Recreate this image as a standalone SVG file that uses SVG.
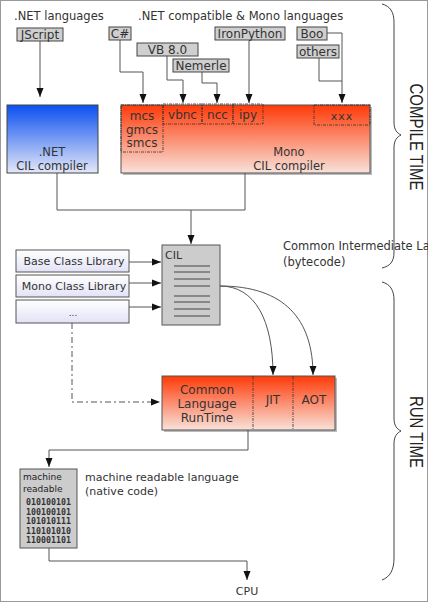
<svg xmlns="http://www.w3.org/2000/svg" width="428" height="602" viewBox="0 0 428 602">
<style>
text{font-family:"DejaVu Sans",Verdana,sans-serif;fill:#333;}
.t{font-size:11.5px;}
.lbl{font-size:12px;text-anchor:middle;}
.box{fill:#cfcfcf;stroke:#444;stroke-width:1;}
.c{fill:none;stroke:#555;stroke-width:1;}
.dd{fill:none;stroke:#333;stroke-width:0.8;stroke-dasharray:3,1,1,1;}
.br{fill:none;stroke:#444;stroke-width:1;}
.big{font-family:"Liberation Sans",Arial,sans-serif;font-size:15px;fill:#222;text-anchor:middle;}
.mid{text-anchor:middle;}
</style>
<defs>
<linearGradient id="gBlue" x1="0" y1="0" x2="0" y2="1"><stop offset="0" stop-color="#0a4ff0"/><stop offset="1" stop-color="#e4e8f8"/></linearGradient>
<linearGradient id="gRed" x1="0" y1="0" x2="0" y2="1"><stop offset="0" stop-color="#ff3a08"/><stop offset="1" stop-color="#f8e2da"/></linearGradient>
<linearGradient id="gLib" x1="0" y1="0" x2="0" y2="1"><stop offset="0" stop-color="#ffffff"/><stop offset="1" stop-color="#e2e2f6"/></linearGradient>
<marker id="ah" markerUnits="userSpaceOnUse" markerWidth="9" markerHeight="8" refX="9" refY="4" orient="auto"><path d="M0,0.5 L9,4 L0,7.5 z" fill="#111"/></marker>
</defs>
<rect x="0.5" y="0.5" width="427" height="601" fill="#fff" stroke="#999"/>

<text class="t" x="14" y="20">.NET languages</text>
<text class="t" x="138" y="20">.NET compatible &amp; Mono languages</text>

<g id="jscript"><rect class="box" x="17" y="28" width="46" height="13"/><text class="lbl" x="40" y="39">JScript</text></g>
<g id="csharp"><rect class="box" x="109" y="27" width="22" height="13"/><text class="lbl" x="120" y="38">C#</text></g>
<g id="vb8"><rect class="box" x="137" y="43" width="61" height="13"/><text class="lbl" x="167.5" y="54">VB 8.0</text></g>
<g id="nemerle"><rect class="box" x="173" y="59" width="56" height="13"/><text class="lbl" x="201" y="70">Nemerle</text></g>
<g id="ironpython"><rect class="box" x="215" y="27" width="70" height="13"/><text class="lbl" x="250" y="38">IronPython</text></g>
<g id="boo"><rect class="box" x="297" y="27" width="30" height="13"/><text class="lbl" x="312" y="38">Boo</text></g>
<g id="others"><rect class="box" x="297" y="45" width="42" height="13"/><text class="lbl" x="318" y="56">others</text></g>

<g id="net-compiler">
<rect x="7" y="105" width="91" height="68" fill="url(#gBlue)" stroke="#444"/>
<text class="t mid" x="52" y="156">.NET</text>
<text class="t mid" x="52" y="170">CIL compiler</text>
</g>

<g id="mono-compiler">
<rect x="123" y="107" width="249" height="68" fill="#bbb"/>
<rect x="121" y="105" width="249" height="68" fill="url(#gRed)" stroke="#555"/>
<rect class="dd" x="121" y="105" width="42" height="47"/>
<rect class="dd" x="163" y="104" width="39" height="20"/>
<rect class="dd" x="202" y="104" width="31" height="20"/>
<rect class="dd" x="233" y="104" width="30" height="20"/>
<rect class="dd" x="314" y="105" width="56" height="20"/>
<text class="lbl" x="142" y="120">mcs</text>
<text class="lbl" x="142" y="134">gmcs</text>
<text class="lbl" x="142" y="147">smcs</text>
<text class="lbl" x="182.5" y="119">vbnc</text>
<text class="lbl" x="217.5" y="119">ncc</text>
<text class="lbl" x="248" y="119">ipy</text>
<text class="mid" x="342" y="120" style="font-size:11px;letter-spacing:1px">xxx</text>
<text class="t mid" x="289" y="156">Mono</text>
<text class="t mid" x="289" y="170">CIL compiler</text>
</g>

<g id="bcl"><rect x="16" y="250" width="113" height="22" fill="url(#gLib)" stroke="#555"/><text class="mid" x="74" y="265" style="font-size:11px">Base Class Library</text></g>
<g id="mcl"><rect x="16" y="275" width="113" height="22" fill="url(#gLib)" stroke="#555"/><text class="mid" x="74" y="290" style="font-size:11px">Mono Class Library</text></g>
<g id="etc"><rect x="16" y="300" width="113" height="23" fill="url(#gLib)" stroke="#555"/><text class="mid" x="73" y="316" style="font-size:9px">...</text></g>

<g id="cil">
<rect x="162" y="245" width="58" height="80" fill="#cccccc" stroke="#555"/>
<text x="165" y="259" style="font-size:11px">CIL</text>
<path d="M174,266H210M174,272H210M174,279H210M174,286H210M174,296H210M174,302H210M174,309H210M174,316H210" stroke="#444" stroke-width="1"/>
</g>
<g id="cil-desc">
<text class="t" x="283" y="250">Common Intermediate Language</text>
<text class="t" x="283" y="266">(bytecode)</text>
</g>

<g id="clr">
<rect x="164" y="378" width="173" height="54" fill="#bbb"/>
<rect x="162" y="376" width="173" height="54" fill="url(#gRed)" stroke="#555"/>
<path class="dd" d="M253,376V430M293,376V430"/>
<text class="lbl" x="207" y="394">Common</text>
<text class="lbl" x="207" y="408">Language</text>
<text class="lbl" x="207" y="422">RunTime</text>
<text class="lbl" x="273" y="404">JIT</text>
<text class="lbl" x="314" y="404">AOT</text>
</g>

<g id="machine">
<rect x="20" y="469" width="57" height="79" fill="#cccccc" stroke="#555"/>
<text x="23" y="480" style="font-size:9px;fill:#222">machine</text>
<text x="23" y="492" style="font-size:9px;fill:#222">readable</text>
<g style="font-family:'DejaVu Sans Mono',monospace;font-size:8.3px;font-weight:bold">
<text x="26" y="505" style="font-family:'DejaVu Sans Mono',monospace">010100101</text>
<text x="26" y="515" style="font-family:'DejaVu Sans Mono',monospace">100100101</text>
<text x="26" y="524" style="font-family:'DejaVu Sans Mono',monospace">101010111</text>
<text x="26" y="534" style="font-family:'DejaVu Sans Mono',monospace">110101010</text>
<text x="26" y="543" style="font-family:'DejaVu Sans Mono',monospace">110001101</text>
</g>
</g>
<g id="machine-desc">
<text x="85" y="481" style="font-size:11px">machine readable language</text>
<text x="85" y="495" style="font-size:11px">(native code)</text>
</g>
<g id="cpu"><text class="mid" x="247" y="595" style="font-size:11px">CPU</text></g>

<g id="compile-time">
<path class="br" d="M382,4 C390,6 394,12 394,22 V122 C394,130 397,133 401,135 C397,137 394,140 394,148 V252 C394,262 390,266 382,268"/>
<text class="big" transform="translate(416,137) rotate(90) scale(1,1.25)" y="5">COMPILE TIME</text>
</g>
<g id="run-time">
<path class="br" d="M382,282 C390,284 394,290 394,300 V418 C394,426 397,429 401,431 C397,433 394,436 394,444 V558 C394,570 390,577 382,580"/>
<text class="big" transform="translate(416,432) rotate(90) scale(1,1.25)" y="5">RUN TIME</text>
</g>

<g id="connectors">
<path class="c" d="M40,41V97" marker-end="url(#ah)"/>
<path class="c" d="M120,40V72H143V103" marker-end="url(#ah)"/>
<path class="c" d="M167,56V80H183V103" marker-end="url(#ah)"/>
<path class="c" d="M202,72V83H217V103" marker-end="url(#ah)"/>
<path class="c" d="M249,41V103" marker-end="url(#ah)"/>
<path class="c" d="M327,33H342V103" marker-end="url(#ah)"/>
<path class="c" d="M319,58V81H342"/>
<path class="c" d="M57,173V210H245V173"/>
<path class="c" d="M191,210V244" marker-end="url(#ah)"/>
<path class="c" d="M129,262H161" marker-end="url(#ah)"/>
<path class="c" d="M129,283H161" marker-end="url(#ah)"/>
<path class="c" d="M129,307H161" marker-end="url(#ah)"/>
<path class="c" d="M72,323V402H160" stroke-dasharray="6,3,2,3" marker-end="url(#ah)"/>
<path class="c" d="M220,286C255,286 273,320 273,375" marker-end="url(#ah)"/>
<path class="c" d="M220,286C285,286 313,320 313,375" marker-end="url(#ah)"/>
<path class="c" d="M248,430V450H49V467" marker-end="url(#ah)"/>
<path class="c" d="M49,548V561H247V580" marker-end="url(#ah)"/>
</g>
</svg>
